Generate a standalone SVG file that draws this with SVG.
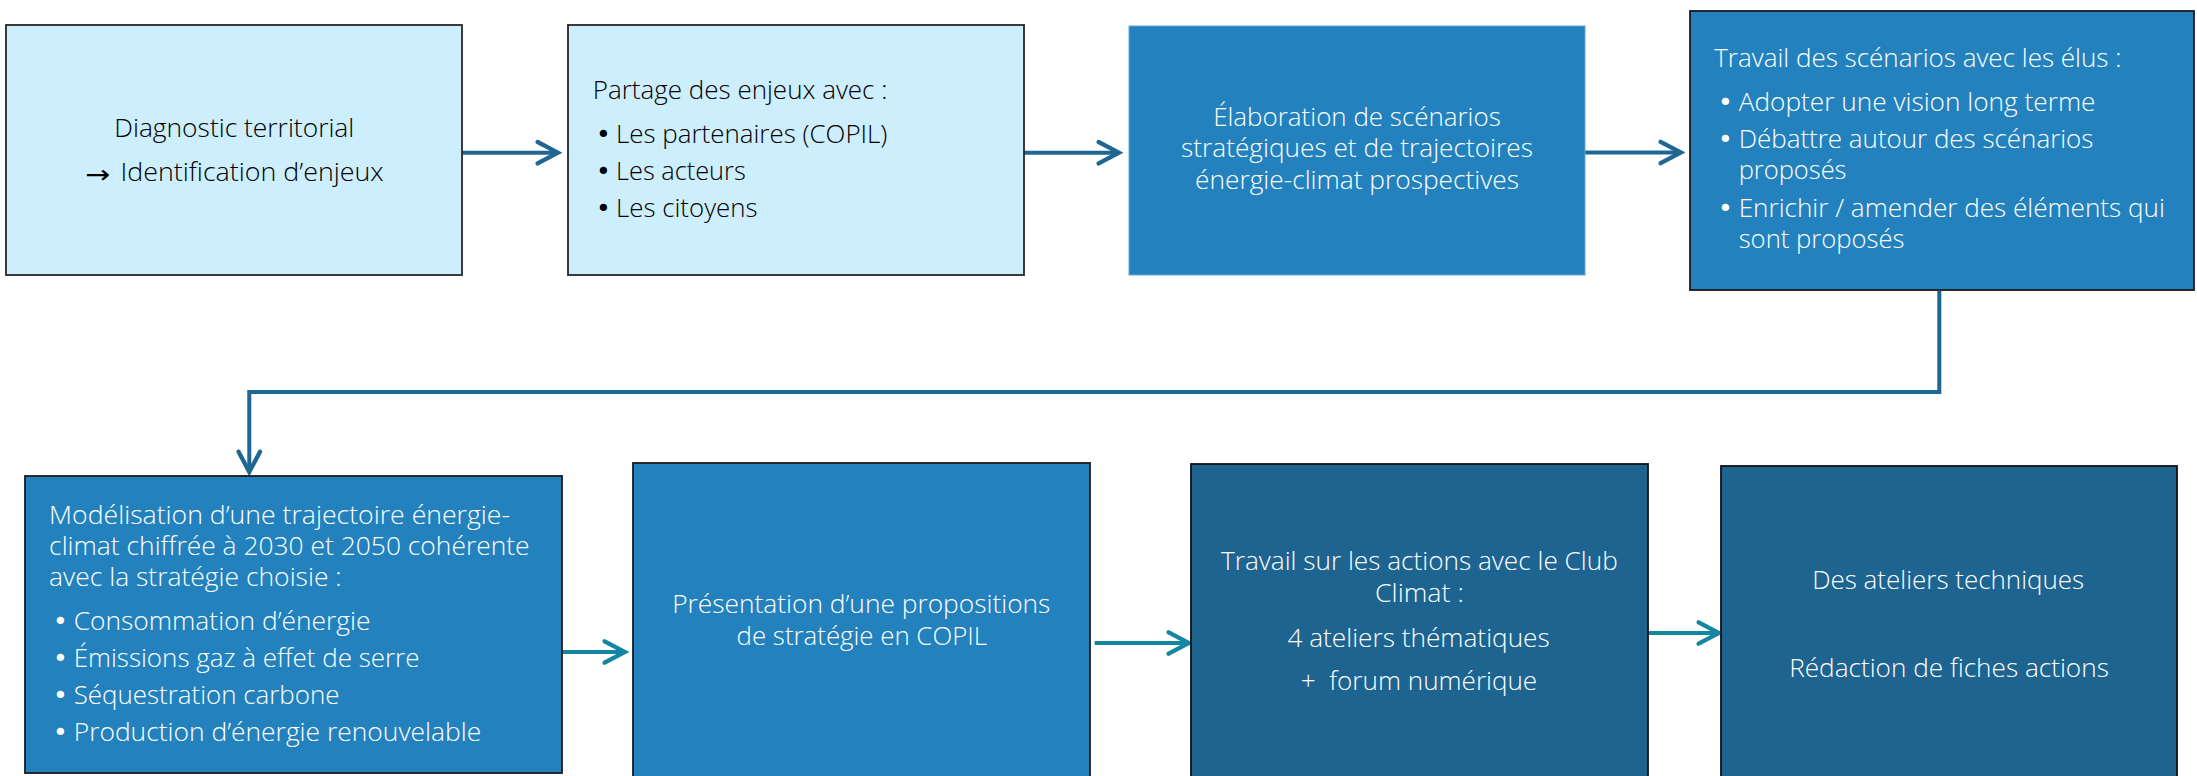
<svg xmlns="http://www.w3.org/2000/svg" width="2197" height="776" viewBox="0 0 2197 776">
<style>
.light{fill:#CDEEFC;stroke:#262626;stroke-width:1.8}
.mid{fill:#2382BE;stroke:#1a1a1a;stroke-width:1.8}
.midnb{fill:#2382BE;stroke:#5FA8DA;stroke-width:1}
.dark{fill:#1D6491;stroke:#111;stroke-width:1.8}
text{font-family:"Open Sans","Liberation Sans",Arial,sans-serif;font-size:25px;font-weight:300}
.tk{fill:#000}
.tw{fill:#fff}
.c{text-anchor:middle}
.b{font-family:"DejaVu Sans",sans-serif;font-weight:400}
.conn{fill:none;stroke-width:4}
.dk{stroke:#1F6693}
.tl{stroke:#1486A2}
</style>
<defs>
<marker id="ahD" markerUnits="userSpaceOnUse" markerWidth="30" markerHeight="30" viewBox="-24 -14 28 28" refX="0" refY="0" orient="auto">
<path d="M-19,-10 L0,0 L-19,10" fill="none" stroke="#1F6693" stroke-width="4" stroke-linecap="round" stroke-linejoin="miter"/>
</marker>
<marker id="ahT" markerUnits="userSpaceOnUse" markerWidth="30" markerHeight="30" viewBox="-24 -14 28 28" refX="0" refY="0" orient="auto">
<path d="M-19,-10 L0,0 L-19,10" fill="none" stroke="#1486A2" stroke-width="4" stroke-linecap="round" stroke-linejoin="miter"/>
</marker>
</defs>
<rect width="2197" height="776" fill="#fff"/>
<g id="connectors">
<path class="conn dk" d="M462,152.7 H558" marker-end="url(#ahD)"/>
<path class="conn dk" d="M1024,152.7 H1119" marker-end="url(#ahD)"/>
<path class="conn dk" d="M1585,152.5 H1681" marker-end="url(#ahD)"/>
<path class="conn dk" d="M1939.3,291 V392 H249.3 V472" marker-end="url(#ahD)"/>
<path class="conn tl" d="M562,652 H625" marker-end="url(#ahT)"/>
<path class="conn tl" d="M1094.7,643 H1189" marker-end="url(#ahT)"/>
<path class="conn tl" d="M1648,633 H1719" marker-end="url(#ahT)"/>
</g>
<g id="n1">
<rect class="light" x="6" y="25" width="456" height="250"/>
<text class="tk" x="114.3" y="136.7" textLength="240" lengthAdjust="spacingAndGlyphs">Diagnostic territorial</text>
<text class="tk b" x="85" y="183" font-size="34" font-weight="700" textLength="25" lengthAdjust="spacingAndGlyphs">→</text>
<text class="tk" x="120.5" y="180.7" textLength="263.2" lengthAdjust="spacingAndGlyphs">Identification d’enjeux</text>
</g>
<g id="n2">
<rect class="light" x="568" y="25" width="456" height="250"/>
<text class="tk" x="592.8" y="99.3" textLength="294.6" lengthAdjust="spacingAndGlyphs">Partage des enjeux avec :</text>
<text class="tk b" x="596" y="143.3">•</text>
<text class="tk" x="616" y="143.3" textLength="271.4" lengthAdjust="spacingAndGlyphs">Les partenaires (COPIL)</text>
<text class="tk b" x="596" y="180">•</text>
<text class="tk" x="616" y="180" textLength="129.7" lengthAdjust="spacingAndGlyphs">Les acteurs</text>
<text class="tk b" x="596" y="217.3">•</text>
<text class="tk" x="616" y="217.3" textLength="141.6" lengthAdjust="spacingAndGlyphs">Les citoyens</text>
</g>
<g id="n3">
<rect class="midnb" x="1129" y="26" width="456" height="249"/>
<text class="tw c" x="1357" y="126" textLength="287.6" lengthAdjust="spacingAndGlyphs">Élaboration de scénarios</text>
<text class="tw c" x="1357" y="157.3" textLength="351.8" lengthAdjust="spacingAndGlyphs">stratégiques et de trajectoires</text>
<text class="tw c" x="1357" y="189.3" textLength="324" lengthAdjust="spacingAndGlyphs">énergie-climat prospectives</text>
</g>
<g id="n4">
<rect class="mid" x="1690" y="11" width="504" height="279"/>
<text class="tw" x="1714.2" y="66.7" textLength="407.2" lengthAdjust="spacingAndGlyphs">Travail des scénarios avec les élus :</text>
<text class="tw b" x="1718" y="111">•</text>
<text class="tw" x="1738.7" y="111" textLength="356.8" lengthAdjust="spacingAndGlyphs">Adopter une vision long terme</text>
<text class="tw b" x="1718" y="147.7">•</text>
<text class="tw" x="1738.7" y="147.7" textLength="354.7" lengthAdjust="spacingAndGlyphs">Débattre autour des scénarios</text>
<text class="tw" x="1738.7" y="179.3" textLength="107.8" lengthAdjust="spacingAndGlyphs">proposés</text>
<text class="tw b" x="1718" y="217.3">•</text>
<text class="tw" x="1738.7" y="217.3" textLength="426.1" lengthAdjust="spacingAndGlyphs">Enrichir / amender des éléments qui</text>
<text class="tw" x="1738.7" y="248.3" textLength="165.8" lengthAdjust="spacingAndGlyphs">sont proposés</text>
</g>
<g id="n5">
<rect class="mid" x="25" y="476" width="537" height="297"/>
<text class="tw" x="49.1" y="524" textLength="460.9" lengthAdjust="spacingAndGlyphs">Modélisation d’une trajectoire énergie-</text>
<text class="tw" x="49.1" y="555" textLength="480.5" lengthAdjust="spacingAndGlyphs">climat chiffrée à 2030 et 2050 cohérente</text>
<text class="tw" x="49.1" y="586" textLength="292.5" lengthAdjust="spacingAndGlyphs">avec la stratégie choisie :</text>
<text class="tw b" x="53" y="630">•</text>
<text class="tw" x="73.7" y="630" textLength="296.7" lengthAdjust="spacingAndGlyphs">Consommation d’énergie</text>
<text class="tw b" x="53" y="666.7">•</text>
<text class="tw" x="73.7" y="666.7" textLength="345.8" lengthAdjust="spacingAndGlyphs">Émissions gaz à effet de serre</text>
<text class="tw b" x="53" y="704">•</text>
<text class="tw" x="73.7" y="704" textLength="265.8" lengthAdjust="spacingAndGlyphs">Séquestration carbone</text>
<text class="tw b" x="53" y="740.7">•</text>
<text class="tw" x="73.7" y="740.7" textLength="407.5" lengthAdjust="spacingAndGlyphs">Production d’énergie renouvelable</text>
</g>
<g id="n6">
<rect class="mid" x="633" y="463" width="457" height="330"/>
<text class="tw c" x="861.3" y="613.3" textLength="378.2" lengthAdjust="spacingAndGlyphs">Présentation d’une propositions</text>
<text class="tw c" x="861.8" y="645" textLength="250.4" lengthAdjust="spacingAndGlyphs">de stratégie en COPIL</text>
</g>
<g id="n7">
<rect class="dark" x="1191" y="464" width="457" height="330"/>
<text class="tw c" x="1419.4" y="570" textLength="396.7" lengthAdjust="spacingAndGlyphs">Travail sur les actions avec le Club</text>
<text class="tw c" x="1419.4" y="601.7" textLength="88.8" lengthAdjust="spacingAndGlyphs">Climat :</text>
<text class="tw c" x="1418.6" y="646.7" textLength="262.3" lengthAdjust="spacingAndGlyphs">4 ateliers thématiques</text>
<text class="tw c" x="1419" y="690" textLength="236.4" lengthAdjust="spacingAndGlyphs">+&#160; forum numérique</text>
</g>
<g id="n8">
<rect class="dark" x="1721" y="466" width="456" height="330"/>
<text class="tw c" x="1948.2" y="589.3" textLength="272" lengthAdjust="spacingAndGlyphs">Des ateliers techniques</text>
<text class="tw c" x="1949" y="677.3" textLength="319.7" lengthAdjust="spacingAndGlyphs">Rédaction de fiches actions</text>
</g>
</svg>
